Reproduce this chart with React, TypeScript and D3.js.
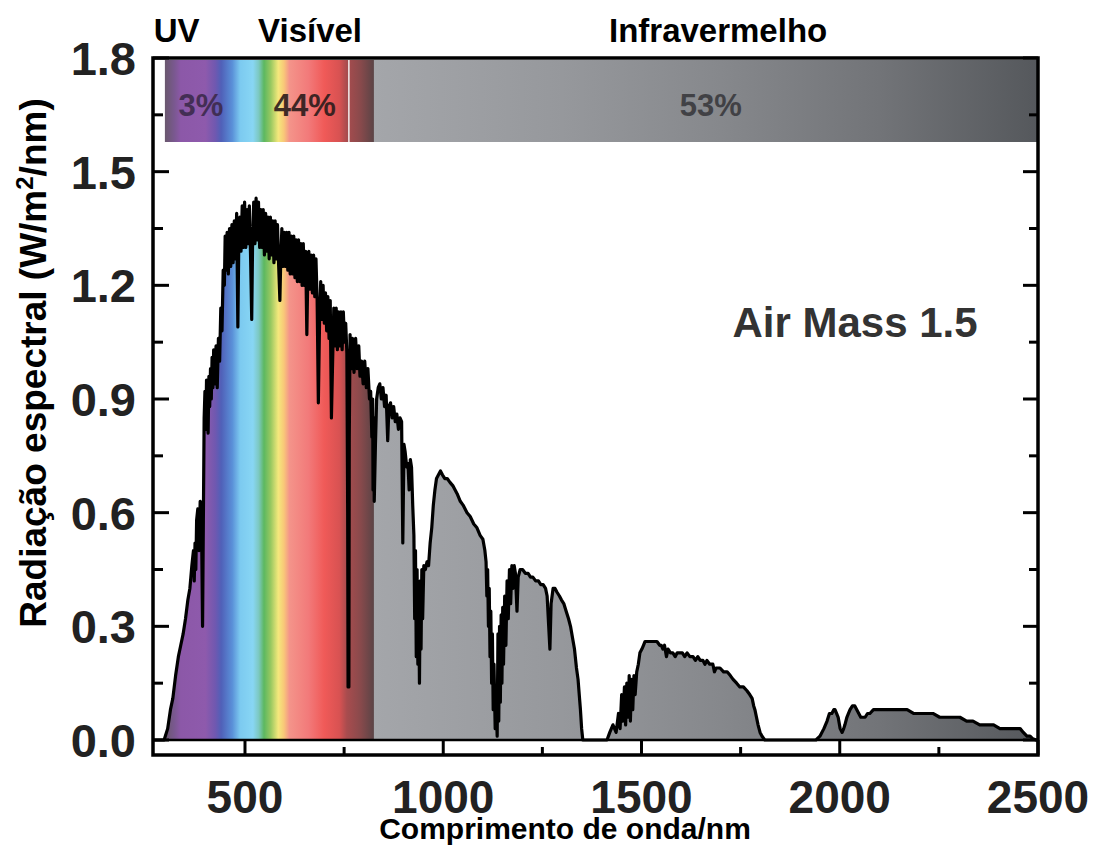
import React from 'react';
import * as d3 from 'd3';

// AM1.5 spectrum, [wavelength nm, W/m2/nm]
const uvRise: [number, number][] = [
  [268, 0], [296, 0], [305, 0.03], [312, 0.08], [318, 0.11], [325, 0.17], [332, 0.22], [338, 0.25],
  [344, 0.28], [350, 0.32], [356, 0.37], [361, 0.4], [366, 0.46], [370, 0.5], [372, 0.42], [374, 0.52],
  [376, 0.45], [378, 0.58], [381, 0.61], [384, 0.5], [387, 0.63], [390, 0.62], [393, 0.3], [395, 0.58],
  [397, 0.85], [399, 0.92], [401, 0.82], [403, 0.95], [405, 0.86], [407, 0.81], [409, 0.96], [411, 0.88],
  [413, 0.98], [415, 0.9], [417, 1.01], [419, 0.93], [421, 1.03], [424, 0.94], [427, 1.04], [430, 0.93],
  [433, 1.06], [436, 1.0], [439, 1.14], [442, 1.08], [445, 1.24], [448, 1.2], [450, 1.33],
];

const visiblePeak: [number, number][] = [
  [452, 1.24], [455, 1.34], [458, 1.23], [461, 1.35], [464, 1.25], [467, 1.36], [470, 1.26],
  [473, 1.37], [476, 1.27], [479, 1.39], [482, 1.09], [484, 1.28], [487, 1.38], [490, 1.29],
  [493, 1.41], [496, 1.3], [499, 1.42], [502, 1.3], [505, 1.4], [508, 1.31], [511, 1.41],
  [514, 1.28], [517, 1.11], [519, 1.3], [522, 1.42], [525, 1.31], [528, 1.43], [531, 1.32],
  [534, 1.42], [537, 1.3], [540, 1.4], [543, 1.3], [546, 1.4], [549, 1.28], [552, 1.39],
  [555, 1.29], [558, 1.38], [561, 1.27], [564, 1.38], [567, 1.28], [570, 1.37], [573, 1.26],
  [576, 1.37], [579, 1.27], [582, 1.36], [585, 1.25], [588, 1.16], [590, 1.26], [593, 1.35],
  [596, 1.25], [599, 1.34], [602, 1.25], [605, 1.34], [608, 1.24], [611, 1.34], [614, 1.23],
  [617, 1.33], [620, 1.23], [623, 1.33], [626, 1.22], [629, 1.32], [632, 1.21], [635, 1.32],
  [638, 1.21], [641, 1.31], [644, 1.2], [647, 1.31], [650, 1.2], [653, 1.29], [656, 1.07],
  [658, 1.2], [661, 1.29], [664, 1.19], [667, 1.28], [670, 1.18], [673, 1.28], [676, 1.17],
  [679, 1.27], [682, 1.16], [685, 0.89], [688, 1.1], [691, 1.21], [694, 1.11], [697, 1.2],
  [700, 1.1], [703, 1.18], [706, 1.08], [709, 1.17], [712, 1.06], [715, 1.16], [718, 0.85],
  [721, 1.0], [724, 1.14], [727, 1.04], [730, 1.14], [733, 1.03], [736, 1.13], [739, 1.04],
  [742, 1.13], [745, 1.03], [748, 1.13], [751, 1.05], [754, 1.1], [757, 1.02], [759, 0.6],
  [760, 0.14], [762, 0.14], [763, 0.8], [765, 1.07],
];

const nearIr: [number, number][] = [
  [768, 0.98], [771, 1.06], [775, 0.97], [779, 1.06], [783, 0.98], [787, 1.04], [790, 0.96],
  [794, 1.0], [798, 0.94], [802, 1.0], [806, 0.93], [810, 0.98], [814, 0.9], [817, 0.92],
  [820, 0.8], [822, 0.9], [823, 0.66], [825, 0.85], [826, 0.63], [829, 0.78], [832, 0.9], [836, 0.93],
  [840, 0.94], [844, 0.9], [848, 0.93], [852, 0.88], [856, 0.91], [860, 0.79], [863, 0.88],
  [867, 0.89], [871, 0.85], [875, 0.88], [879, 0.84], [883, 0.86], [887, 0.82], [891, 0.85],
  [895, 0.84], [898, 0.52], [901, 0.78], [904, 0.76], [908, 0.72], [911, 0.73], [914, 0.66],
  [917, 0.74], [920, 0.72], [923, 0.62], [926, 0.54], [928, 0.32], [930, 0.5], [932, 0.22],
  [934, 0.45], [936, 0.2], [938, 0.4], [940, 0.15], [942, 0.42], [944, 0.24], [946, 0.45],
  [948, 0.32], [951, 0.46], [955, 0.45], [959, 0.47], [963, 0.46], [967, 0.52], [971, 0.56],
  [975, 0.62], [979, 0.66], [983, 0.69], [988, 0.7], [993, 0.71], [998, 0.7],
];

const band1000: [number, number][] = [
  [1004, 0.69], [1010, 0.69], [1017, 0.68], [1025, 0.67], [1035, 0.65], [1043, 0.63],
  [1050, 0.62], [1060, 0.6], [1068, 0.59], [1077, 0.57], [1085, 0.56], [1093, 0.54],
  [1100, 0.53], [1105, 0.5], [1108, 0.47], [1110, 0.38], [1112, 0.45], [1114, 0.3],
  [1116, 0.4], [1118, 0.22], [1120, 0.34], [1122, 0.15], [1124, 0.28], [1126, 0.08],
  [1128, 0.2], [1131, 0.03], [1133, 0.12], [1136, 0.01],
];

const band1250: [number, number][] = [
  [1138, 0.28], [1140, 0.05], [1142, 0.3], [1144, 0.1], [1146, 0.33], [1148, 0.15],
  [1150, 0.35], [1152, 0.2], [1155, 0.38], [1158, 0.25], [1161, 0.42], [1164, 0.32],
  [1167, 0.45], [1170, 0.36], [1173, 0.46], [1176, 0.4], [1179, 0.46], [1182, 0.44],
  [1186, 0.34], [1189, 0.43], [1194, 0.45], [1200, 0.45], [1207, 0.44], [1214, 0.44],
  [1220, 0.43], [1226, 0.43], [1233, 0.42], [1240, 0.42], [1246, 0.41], [1252, 0.41],
  [1258, 0.4], [1262, 0.38], [1266, 0.3], [1269, 0.24], [1272, 0.36], [1277, 0.4],
  [1282, 0.4], [1287, 0.39], [1293, 0.38], [1298, 0.37], [1304, 0.36], [1310, 0.34],
  [1316, 0.32], [1321, 0.3], [1326, 0.27], [1331, 0.24], [1336, 0.19], [1340, 0.16],
  [1343, 0.12], [1346, 0.08], [1349, 0.03], [1352, 0], [1410, 0],
];

const band1600: [number, number][] = [
  [1413, 0], [1420, 0.02], [1428, 0.04], [1436, 0.02], [1442, 0.07], [1446, 0.03],
  [1450, 0.12], [1453, 0.05], [1457, 0.14], [1460, 0.04], [1463, 0.15], [1466, 0.06],
  [1469, 0.17], [1472, 0.05], [1475, 0.16], [1478, 0.08], [1481, 0.17], [1484, 0.12],
  [1488, 0.18], [1492, 0.2], [1496, 0.23], [1501, 0.24], [1505, 0.25], [1509, 0.26],
  [1515, 0.26], [1521, 0.26], [1528, 0.26], [1534, 0.26], [1539, 0.26], [1546, 0.25],
  [1550, 0.25], [1554, 0.24], [1558, 0.25], [1563, 0.22], [1567, 0.24], [1573, 0.23],
  [1579, 0.23], [1585, 0.22], [1590, 0.23], [1597, 0.23], [1603, 0.23], [1609, 0.22],
  [1615, 0.23], [1622, 0.22], [1630, 0.22], [1636, 0.21], [1642, 0.22], [1648, 0.21],
  [1655, 0.21], [1660, 0.2], [1665, 0.21], [1672, 0.2], [1680, 0.2], [1684, 0.18],
  [1688, 0.19], [1698, 0.19], [1707, 0.18], [1716, 0.18], [1724, 0.17], [1731, 0.16],
  [1740, 0.15], [1748, 0.14], [1757, 0.14], [1766, 0.13], [1773, 0.12], [1779, 0.11],
  [1783, 0.09], [1786, 0.08], [1790, 0.06], [1794, 0.04], [1799, 0.02], [1804, 0.01],
  [1811, 0], [1940, 0],
];

const band2200: [number, number][] = [
  [1950, 0.01], [1960, 0.03], [1968, 0.05], [1974, 0.07], [1980, 0.07], [1985, 0.08],
  [1988, 0.08], [1992, 0.07], [1996, 0.06], [2001, 0.03], [2006, 0.02], [2010, 0.03],
  [2013, 0.04], [2018, 0.06], [2022, 0.07], [2026, 0.08], [2032, 0.09], [2038, 0.09],
  [2043, 0.08], [2048, 0.07], [2053, 0.06], [2058, 0.06], [2064, 0.06], [2070, 0.07],
  [2076, 0.07], [2085, 0.08], [2094, 0.08], [2109, 0.08], [2122, 0.08], [2134, 0.08],
  [2150, 0.08], [2170, 0.08], [2186, 0.07], [2202, 0.07], [2218, 0.07], [2235, 0.07],
  [2252, 0.06], [2270, 0.06], [2286, 0.06], [2303, 0.06], [2320, 0.05], [2336, 0.05],
  [2353, 0.04], [2371, 0.04], [2388, 0.04], [2404, 0.03], [2416, 0.03], [2429, 0.03],
  [2437, 0.03], [2446, 0.03], [2455, 0.03], [2463, 0.02], [2472, 0.01], [2480, 0.01],
  [2487, 0.003], [2495, 0], [2500, 0],
];

const xTickValues = [500, 1000, 1500, 2000, 2500];
const xMinorTicks = [750, 1250, 1750, 2250];
const yTickValues = [0, 0.3, 0.6, 0.9, 1.2, 1.5, 1.8];
const yMinorTicks = [0.15, 0.45, 0.75, 1.05, 1.35, 1.65];

// region names above the plot, anchored at their left wavelength
const regions = [
  { label: 'UV', nm: 270 },
  { label: 'Visível', nm: 533 },
  { label: 'Infravermelho', nm: 1418 },
];
const shares = [
  { label: '3%', nm: 389, color: '#3c2a4c' },
  { label: '44%', nm: 651, color: '#2c1c1c' },
  { label: '53%', nm: 1675, color: '#3a3a3e' },
];

// spectral colours along wavelength
const spectrumStops: [number, string][] = [
  [268, '#6b5870'], [300, '#6b5870'], [322, '#7a5890'], [338, '#8c58a8'], [400, '#8e5aac'],
  [425, '#7058b0'], [440, '#5060b8'], [468, '#5a90d8'], [488, '#7ccaf0'], [520, '#88d6f4'],
  [535, '#7cc8c0'], [548, '#5cb860'], [565, '#98c860'], [584, '#f4e87c'], [598, '#f8c878'],
  [612, '#f4948a'], [660, '#f27a7a'], [700, '#f05a58'], [738, '#d85252'], [757, '#a84c4e'],
  [790, '#8a4a4c'], [824, '#5c4446'], [825, '#a4a6aa'], [1300, '#96989c'], [1700, '#86888c'],
  [2100, '#727478'], [2500, '#55585c'],
];

const font = '"Liberation Sans", Arial, sans-serif';

export default function App() {
  const left = 153, right = 1038, top = 58, bottom = 755;
  const x = d3.scaleLinear().domain([268, 2500]).range([left, right]);
  const y = d3.scaleLinear().domain([0, 1.8]).range([740, top]);

  const spectrum = [...uvRise, ...visiblePeak, ...nearIr, ...band1000, ...band1250, ...band1600, ...band2200];

  const area = d3.area<[number, number]>().x(d => x(d[0])).y0(y(0)).y1(d => y(d[1]));
  const line = d3.line<[number, number]>().x(d => x(d[0])).y(d => y(d[1]));

  const x0 = x(268), x1 = x(2500);
  const barLeft = x(298);

  return (
    <svg width={1096} height={846} style={{ position: 'absolute', left: 0, top: 0, background: '#fff' }} fontFamily={font}>
      <defs>
        <linearGradient id="spec" gradientUnits="userSpaceOnUse" x1={x0} x2={x1} y1={0} y2={0}>
          {spectrumStops.map(([nm, c], i) => (
            <stop key={i} offset={(x(nm) - x0) / (x1 - x0)} stopColor={c} />
          ))}
        </linearGradient>
        <clipPath id="plot">
          <rect x={left} y={top} width={right - left} height={bottom - top} />
        </clipPath>
      </defs>

      {/* spectral bar */}
      <rect x={barLeft} y={top + 2} width={right - barLeft} height={142 - top - 2} fill="url(#spec)" />
      <line x1={x(762)} x2={x(762)} y1={top + 2} y2={142} stroke="#f4eeee" strokeWidth={1.5} />
      {shares.map(s => (
        <text key={s.label} x={x(s.nm)} y={116} textAnchor="middle" fontSize={31} fontWeight="bold" fill={s.color} opacity={0.9}>
          {s.label}
        </text>
      ))}

      {/* curve */}
      <g clipPath="url(#plot)">
        <path d={area(spectrum) ?? ''} fill="url(#spec)" />
        <path d={line(spectrum) ?? ''} fill="none" stroke="#000" strokeWidth={3.2} strokeLinejoin="round" />
      </g>

      {/* zero line + frame */}
      <line x1={left} x2={right} y1={y(0)} y2={y(0)} stroke="#000" strokeWidth={2.5} />
      <rect x={left} y={top} width={right - left} height={bottom - top} fill="none" stroke="#000" strokeWidth={3.5} />

      {yTickValues.map(v => (
        <g key={v}>
          <line x1={left} x2={left + 16} y1={y(v)} y2={y(v)} stroke="#000" strokeWidth={3} />
          <line x1={right} x2={right - 15} y1={y(v)} y2={y(v)} stroke="#000" strokeWidth={3} />
          <text x={136} y={y(v)} dy="0.36em" textAnchor="end" fontSize={47} fontWeight="bold" fill="#222">
            {d3.format('.1f')(v)}
          </text>
        </g>
      ))}
      {yMinorTicks.map(v => (
        <g key={v}>
          <line x1={left} x2={left + 10} y1={y(v)} y2={y(v)} stroke="#000" strokeWidth={3} />
          <line x1={right} x2={right - 9} y1={y(v)} y2={y(v)} stroke="#000" strokeWidth={3} />
        </g>
      ))}

      {xTickValues.map(v => (
        <g key={v}>
          <line x1={x(v)} x2={x(v)} y1={bottom} y2={y(0)} stroke="#000" strokeWidth={3} />
          <text x={x(v)} y={813} textAnchor="middle" fontSize={46} fontWeight="bold" fill="#222">
            {v}
          </text>
        </g>
      ))}
      {xMinorTicks.map(v => (
        <line key={v} x1={x(v)} x2={x(v)} y1={bottom} y2={bottom - 8} stroke="#000" strokeWidth={3} />
      ))}

      {/* region labels */}
      {regions.map(r => (
        <text key={r.label} x={x(r.nm)} y={42} fontSize={33} fontWeight="bold" fill="#000">
          {r.label}
        </text>
      ))}

      <text x={855} y={337} textAnchor="middle" fontSize={42} fontWeight="bold" fill="#333">
        Air Mass 1.5
      </text>

      <text x={565} y={839} textAnchor="middle" fontSize={30} fontWeight="bold" fill="#000">
        Comprimento de onda/nm
      </text>
      <text transform="translate(46,363) rotate(-90)" textAnchor="middle" fontSize={37} fontWeight="bold" fill="#000">
        Radiação espectral (W/m<tspan dy={-13} fontSize={24}>2</tspan><tspan dy={13}>/nm)</tspan>
      </text>
    </svg>
  );
}
